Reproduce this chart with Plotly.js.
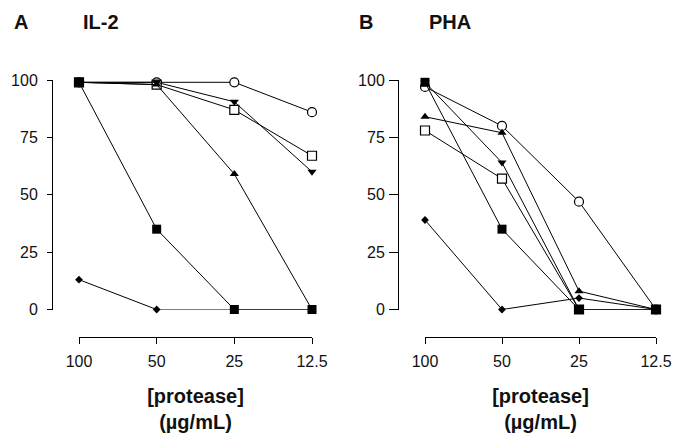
<!DOCTYPE html>
<html>
<head>
<meta charset="utf-8">
<script src="https://cdn.plot.ly/plotly-3.0.1.min.js"></script>
<style>html,body{margin:0;padding:0;background:#fff;}#chart{width:678px;height:433px;}</style>
</head>
<body>
<div id="chart"></div>
<script>
// Concentration categories (x positions 0..3)
const concLabels = ["100", "50", "25", "12.5"];
const xIdx = [0, 1, 2, 3];
const yTicks = [0, 25, 50, 75, 100];

// Panel A: IL-2
const A_openCircle  = [99, 99, 99, 86];
const A_openSquare  = [99, 98, 87, 67];
const A_downTri     = [99, 99, 90.5, 60];
const A_upTri       = [99, 98, 59, 0];
const A_filledSq    = [99, 35, 0, 0];
const A_diamond     = [13, 0, 0, 0];

// Panel B: PHA
const B_openCircle  = [97, 80, 47, 0];
const B_openSquare  = [78, 57, 0, 0];
const B_downTri     = [99, 64, 0, 0];
const B_upTri       = [84, 77, 8, 0];
const B_filledSq    = [99, 35, 0, 0];
const B_diamond     = [39, 0, 5, 0];

const W = 678, H = 433;
const px = v => v / W;
const py = v => 1 - v / H;

const styles = {
  openCircle: {symbol: 'circle', size: 9, color: '#fff', line: {color: '#000', width: 1.2}},
  openSquare: {symbol: 'square', size: 9, color: '#fff', line: {color: '#000', width: 1.2}},
  downTri:    {symbol: 'triangle-down', size: 8, color: '#000', line: {width: 0}},
  upTri:      {symbol: 'triangle-up', size: 8, color: '#000', line: {width: 0}},
  filledSq:   {symbol: 'square', size: 9, color: '#000', line: {width: 0}},
  diamond:    {symbol: 'diamond', size: 6, color: '#000', line: {width: 0}}
};

function tr(y, style, xa, ya) {
  return {
    x: xIdx, y: y, xaxis: xa, yaxis: ya, type: 'scatter', mode: 'lines+markers',
    line: {color: '#000', width: 1}, marker: styles[style], cliponaxis: false,
    showlegend: false, hoverinfo: 'skip'
  };
}

const data = [
  tr(A_openCircle, 'openCircle', 'x', 'y'),
  tr(A_openSquare, 'openSquare', 'x', 'y'),
  tr(A_downTri, 'downTri', 'x', 'y'),
  tr(A_upTri, 'upTri', 'x', 'y'),
  tr(A_diamond, 'diamond', 'x', 'y'),
  tr(A_filledSq, 'filledSq', 'x', 'y'),
  tr(B_openCircle, 'openCircle', 'x2', 'y2'),
  tr(B_openSquare, 'openSquare', 'x2', 'y2'),
  tr(B_downTri, 'downTri', 'x2', 'y2'),
  tr(B_upTri, 'upTri', 'x2', 'y2'),
  tr(B_diamond, 'diamond', 'x2', 'y2'),
  tr(B_filledSq, 'filledSq', 'x2', 'y2')
];

const tickFont = {family: 'Liberation Sans, Arial, sans-serif', size: 16, color: '#111'};
const titleFont = {family: 'Liberation Sans, Arial, sans-serif', size: 20, color: '#111', weight: 'bold'};

function xAxis(d0, d1) {
  return {
    domain: [px(d0), px(d1)], range: [0, 3], anchor: 'free', position: py(337),
    showline: true, linecolor: '#000', linewidth: 1, showgrid: false, zeroline: false,
    ticks: 'outside', ticklen: 6, tickcolor: '#000', tickwidth: 1,
    tickvals: xIdx, ticktext: concLabels, tickfont: tickFont, ticklabelstandoff: 4,
    title: {text: '<b>[protease]</b><br><b>(µg/mL)</b>', font: titleFont, standoff: 20},
    fixedrange: true, automargin: false
  };
}
function yAxis(pos, tl, so) {
  return {
    domain: [py(309.5), py(80)], range: [0, 100], anchor: 'free', position: px(pos),
    showline: true, linecolor: '#000', linewidth: 1, showgrid: false, zeroline: false,
    ticks: 'outside', ticklen: tl, tickcolor: '#000', tickwidth: 1,
    tickvals: yTicks, tickfont: tickFont, ticklabelstandoff: so,
    fixedrange: true, automargin: false
  };
}

const panelFont = {family: 'Liberation Sans, Arial, sans-serif', size: 20, color: '#111', weight: 'bold'};
function ann(text, x) {
  return {text: '<b>' + text + '</b>', x: px(x), y: py(22), xref: 'paper', yref: 'paper',
    xanchor: 'left', yanchor: 'middle', showarrow: false, font: panelFont};
}

const layout = {
  width: W, height: H,
  margin: {l: 0, r: 0, t: 0, b: 0},
  paper_bgcolor: '#fff', plot_bgcolor: '#fff',
  xaxis: xAxis(79, 312),
  yaxis: yAxis(52, 5, 6),
  xaxis2: xAxis(425, 656),
  yaxis2: yAxis(398, 9, 1),
  annotations: [ann('A', 12), ann('IL-2', 81), ann('B', 357), ann('PHA', 427)],
  showlegend: false
};

Plotly.newPlot('chart', data, layout, {displayModeBar: false, staticPlot: true});
</script>
</body>
</html>
